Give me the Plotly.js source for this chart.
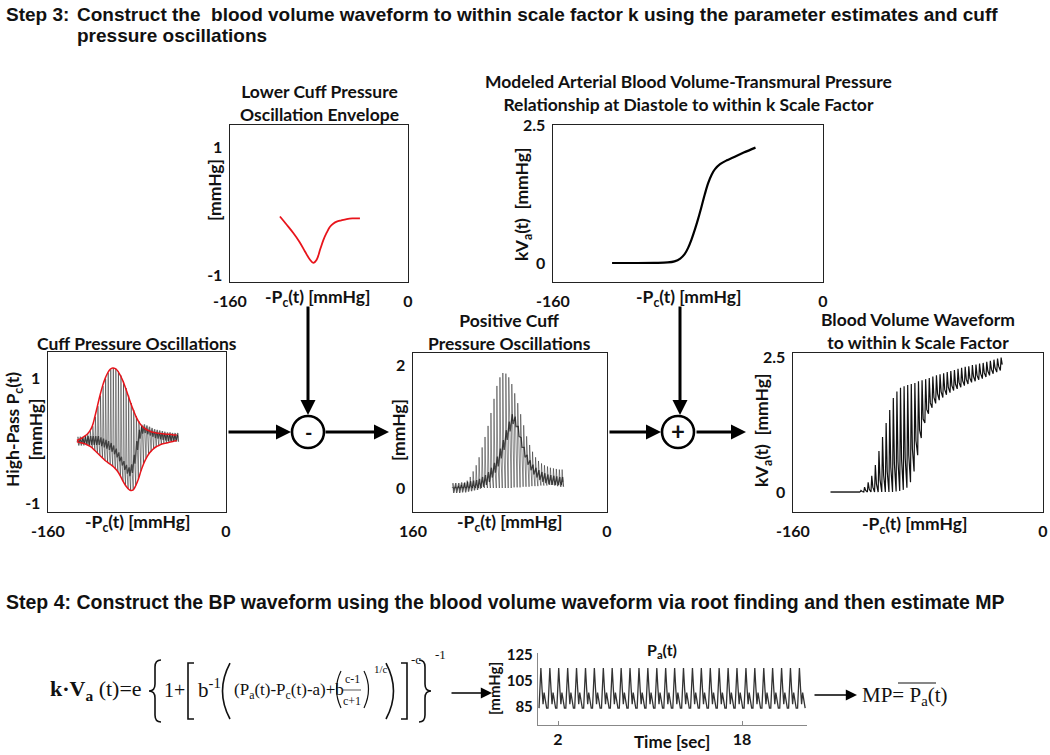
<!DOCTYPE html>
<html><head><meta charset="utf-8">
<script src="https://cdn.plot.ly/plotly-3.0.1.min.js"></script>
<style>html,body{margin:0;padding:0;background:#fff}#chart{width:1050px;height:755px}</style>
</head><body><div id="chart"></div>
<script>
// ---------------- DATA ----------------
// Lower cuff pressure oscillation envelope
const envX = [-115.1,-109,-103.1,-97.5,-92.6,-88.1,-85.1,-82.1,-79,-76.1,-73,-70.1,-67,-64.1,-60,-55.1,-50,-43.2];
const envY = [-0.08,-0.21,-0.34,-0.48,-0.63,-0.76,-0.81,-0.76,-0.6,-0.45,-0.33,-0.24,-0.19,-0.16,-0.14,-0.12,-0.11,-0.11];

// Modeled arterial blood volume - transmural pressure relationship
const modelX = [-125,-110,-100,-92,-88,-84.6,-82,-80,-78,-76,-74,-72,-70,-68,-66,-64,-61,-57,-53.3,-47,-40];
const modelY = [0,0,0.003,0.01,0.03,0.08,0.16,0.27,0.42,0.6,0.8,1.02,1.25,1.45,1.6,1.7,1.79,1.86,1.91,2.0,2.09];

// Cuff pressure oscillations (per beat)
const cuffBeatX = [-134.0,-131.7,-129.4,-127.1,-124.8,-122.5,-120.2,-117.9,-115.6,-113.3,-111.0,-108.7,-106.4,-104.1,-101.8,-99.5,-97.2,-94.9,-92.6,-90.3,-88.0,-85.7,-83.4,-81.1,-78.8,-76.5,-74.2,-71.9,-69.6,-67.3,-65.0,-62.7,-60.4,-58.1,-55.8,-53.5,-51.2,-48.9,-46.6,-44.3];
const cuffUpper = [0.00,0.02,0.04,0.07,0.10,0.15,0.23,0.38,0.55,0.72,0.87,0.99,1.08,1.14,1.16,1.15,1.11,1.04,0.95,0.84,0.72,0.60,0.49,0.39,0.31,0.25,0.21,0.18,0.16,0.14,0.13,0.12,0.115,0.11,0.105,0.10,0.10,0.095,0.09,0.09];
const cuffLower = [-0.02,-0.03,-0.04,-0.05,-0.07,-0.09,-0.12,-0.16,-0.20,-0.24,-0.28,-0.32,-0.35,-0.38,-0.41,-0.45,-0.50,-0.57,-0.65,-0.72,-0.77,-0.80,-0.79,-0.72,-0.62,-0.49,-0.38,-0.29,-0.22,-0.17,-0.13,-0.10,-0.08,-0.06,-0.05,-0.04,-0.03,-0.02,-0.01,0.00];
const cuffDark  = [-0.01,-0.01,-0.01,0,0,0,0,0,0,-0.02,-0.04,-0.06,-0.08,-0.11,-0.15,-0.2,-0.26,-0.33,-0.4,-0.46,-0.5,-0.45,-0.3,-0.08,0.1,0.18,0.19,0.17,0.15,0.13,0.11,0.1,0.09,0.08,0.07,0.06,0.06,0.05,0.05,0.05];

// Positive cuff pressure oscillations (per beat)
const posBeatX = [-128.0,-125.6,-123.1,-120.7,-118.2,-115.8,-113.3,-110.9,-108.4,-106.0,-103.5,-101.1,-98.6,-96.2,-93.7,-91.3,-88.8,-86.4,-83.9,-81.5,-79.0,-76.6,-74.1,-71.7,-69.2,-66.8,-64.3,-61.9,-59.4,-57.0,-54.5,-52.1,-49.6,-47.2,-44.7,-42.3,-39.8,-37.5];
const posUpper = [0.01,0.02,0.03,0.05,0.08,0.12,0.18,0.27,0.37,0.50,0.66,0.83,1.01,1.22,1.45,1.66,1.80,1.87,1.86,1.80,1.69,1.54,1.38,1.20,1.02,0.84,0.70,0.59,0.50,0.44,0.40,0.37,0.35,0.33,0.32,0.31,0.30,0.30];
const posLower = [0,0,0,0,0,0,0,0,0,0,0,0,0,0,0,0,0,0,0,0,0,0.01,0.01,0.01,0.02,0.02,0.02,0.03,0.03,0.03,0.04,0.04,0.04,0.05,0.05,0.05,0.05,0.05];
const posDark  = [0,0,0,0.01,0.01,0.02,0.03,0.04,0.05,0.07,0.1,0.13,0.18,0.25,0.33,0.43,0.56,0.7,0.86,1.0,1.12,1.08,0.92,0.74,0.58,0.46,0.37,0.3,0.25,0.21,0.18,0.16,0.14,0.13,0.12,0.11,0.1,0.1];

// Blood volume waveform (per beat)
const bvFlatX = [-136,-117];
const bvFlatY = [0,0];
const bvBeatX = [-117.0,-114.7,-112.4,-110.1,-107.8,-105.5,-103.2,-100.9,-98.6,-96.3,-94.0,-91.7,-89.4,-87.1,-84.8,-82.5,-80.2,-77.9,-75.6,-73.3,-71.0,-68.7,-66.4,-64.1,-61.8,-59.5,-57.2,-54.9,-52.6,-50.3,-48.0,-45.7,-43.4,-41.1,-38.8,-36.5,-34.2,-31.9,-29.6,-27.3];
const bvUpper = [0.03,0.09,0.18,0.3,0.5,0.76,1.02,1.28,1.52,1.74,1.86,1.93,1.96,1.98,2.0,2.02,2.05,2.07,2.09,2.11,2.14,2.16,2.18,2.2,2.22,2.24,2.26,2.28,2.3,2.32,2.33,2.35,2.36,2.38,2.39,2.41,2.43,2.45,2.47,2.49];
const bvLower = [0,0,0,0,0,0,0,0,0,0,0.01,0.02,0.04,0.08,0.18,0.38,0.68,1.0,1.28,1.45,1.56,1.64,1.7,1.75,1.8,1.84,1.88,1.91,1.94,1.97,2.0,2.03,2.05,2.08,2.1,2.13,2.16,2.19,2.22,2.25];
const bvDark  = [0.01,0.03,0.05,0.09,0.15,0.23,0.31,0.38,0.46,0.52,0.56,0.6,0.63,0.68,0.8,0.95,1.15,1.35,1.53,1.65,1.75,1.82,1.86,1.9,1.94,1.97,2.0,2.03,2.06,2.09,2.11,2.14,2.16,2.19,2.21,2.24,2.27,2.3,2.33,2.36];

// Arterial pressure Pa(t): one beat's shape and the beat onset times
const paBeatT = [0, 0.08, 0.16, 0.26, 0.35, 0.44, 0.54, 0.66];
const paBeatP = [84, 99, 115, 99, 87, 96, 89, 84];
const paOnsets = [0.35,1.13,1.90,2.68,3.45,4.23,5.00,5.78,6.55,7.33,8.10,8.88,9.65,10.43,11.20,11.98,12.75,13.53,14.30,15.08,15.85,16.63,17.40,18.18,18.95,19.73,20.50,21.28,22.05,22.83];

// Tick labels
const pcTickVals = [-160, 0];
const pcTickText = ['-160', '0'];
const posTickText = ['160', '0'];
const oscTickVals = [-1, 1];
const oscTickText = ['-1', '1'];
const paYTicks = [85, 105, 125];
const paXTicks = [2, 18];

// ---------------- LAYOUT HELPERS ----------------
const W = 1050, H = 755;
const PX = x => x / W, PY = y => 1 - y / H;
const SANS = 'Lato, "Open Sans", sans-serif';
const SERIF = '"Liberation Serif", "DejaVu Serif", serif';
const ARIAL = '"Liberation Sans", Arial, sans-serif';
const FS = 17.5;

function zig(xs, lo, hi, mid) {
  const X = [], Y = [];
  for (let i = 0; i < xs.length; i++) {
    X.push(xs[i], xs[i] + 0.5, xs[i] + 1.2);
    Y.push(lo[i], hi[i], mid[i]);
  }
  return {X, Y};
}
function band(xs, mid, d) {
  const X = [], Y = [];
  for (let i = 0; i < xs.length; i++) {
    X.push(xs[i] + 0.9, xs[i] + 1.6);
    Y.push(mid[i] + d, mid[i] - d);
  }
  return {X, Y};
}

const traces = [];
traces.push({x: envX, y: envY, xaxis: 'x', yaxis: 'y', mode: 'lines', line: {color: '#e8141b', width: 1.8, shape: 'spline'}, hoverinfo: 'skip'});
traces.push({x: modelX, y: modelY, xaxis: 'x2', yaxis: 'y2', mode: 'lines', line: {color: '#000', width: 2.2, shape: 'spline'}, hoverinfo: 'skip'});
let z = zig(cuffBeatX, cuffLower, cuffUpper, cuffDark);
traces.push({x: z.X, y: z.Y, xaxis: 'x3', yaxis: 'y3', mode: 'lines', line: {color: 'rgba(0,0,0,0.55)', width: 0.8}, hoverinfo: 'skip'});
let b = band(cuffBeatX, cuffDark, 0.07);
traces.push({x: b.X, y: b.Y, xaxis: 'x3', yaxis: 'y3', mode: 'lines', line: {color: 'rgba(0,0,0,0.6)', width: 1.3}, hoverinfo: 'skip'});
traces.push({x: cuffBeatX, y: cuffUpper, xaxis: 'x3', yaxis: 'y3', mode: 'lines', line: {color: '#e8141b', width: 1.5, shape: 'spline'}, hoverinfo: 'skip'});
traces.push({x: cuffBeatX, y: cuffLower, xaxis: 'x3', yaxis: 'y3', mode: 'lines', line: {color: '#e8141b', width: 1.5, shape: 'spline'}, hoverinfo: 'skip'});
z = zig(posBeatX, posLower, posUpper, posDark);
traces.push({x: z.X, y: z.Y, xaxis: 'x4', yaxis: 'y4', mode: 'lines', line: {color: 'rgba(0,0,0,0.55)', width: 0.8}, hoverinfo: 'skip'});
b = band(posBeatX, posDark, 0.08);
traces.push({x: b.X, y: b.Y, xaxis: 'x4', yaxis: 'y4', mode: 'lines', line: {color: 'rgba(0,0,0,0.65)', width: 1.3}, hoverinfo: 'skip'});
traces.push({x: bvFlatX, y: bvFlatY, xaxis: 'x5', yaxis: 'y5', mode: 'lines', line: {color: '#111', width: 1.4}, hoverinfo: 'skip'});
z = zig(bvBeatX, bvLower, bvUpper, bvDark);
traces.push({x: z.X, y: z.Y, xaxis: 'x5', yaxis: 'y5', mode: 'lines', line: {color: '#111', width: 1.2}, hoverinfo: 'skip'});
const paT = [], paP = [];
paOnsets.forEach(t0 => paBeatT.forEach((dt, k) => { paT.push(t0 + dt); paP.push(paBeatP[k]); }));
traces.push({x: paT, y: paP, xaxis: 'x6', yaxis: 'y6', mode: 'lines', line: {color: '#333', width: 1.3}, hoverinfo: 'skip'});

const tickfont = {family: SANS, size: 16, color: '#111', weight: 'bold'};
function xax(x0, x1, anchor, tt) {
  return {domain: [PX(x0), PX(x1)], range: [-160, 0], anchor, showline: true, mirror: true, linecolor: '#222', linewidth: 1.4,
    ticks: '', tickvals: pcTickVals, ticktext: tt || pcTickText, tickfont, ticklabelstandoff: 4, showgrid: false, zeroline: false, fixedrange: true};
}
function yax(y0, y1, range, tv, tt, anchor) {
  return {domain: [PY(y1), PY(y0)], range, anchor, showline: true, mirror: true, linecolor: '#222', linewidth: 1.4,
    ticks: '', tickvals: tv, ticktext: tt, tickfont, ticklabelstandoff: 3, showgrid: false, zeroline: false, fixedrange: true};
}

const ann = [];
function txt(x, y, text, size, o) {
  o = o || {};
  ann.push({x: PX(x), y: PY(y), xref: 'paper', yref: 'paper', text, showarrow: false,
    xanchor: o.xa || 'center', yanchor: o.ya || 'middle', textangle: o.rot || 0,
    font: {family: o.fam || SANS, size, color: '#111', weight: o.w || 'bold'}});
}
function arrow(x1, y1, x2, y2, w, s) {
  ann.push({x: PX(x2), y: PY(y2), xref: 'paper', yref: 'paper', ax: x1 - x2, ay: y1 - y2, text: '', showarrow: true,
    arrowhead: 2, arrowsize: s || 1, arrowwidth: w, arrowcolor: '#000', standoff: 0, startstandoff: 0});
}

// Step headings
txt(4, 15, 'Step 3:', 19, {xa: 'left', fam: ARIAL});
txt(75, 15, 'Construct the \u00a0blood volume waveform to within scale factor k using the parameter estimates and cuff', 19, {xa: 'left', fam: ARIAL});
txt(75, 36, 'pressure oscillations', 19, {xa: 'left', fam: ARIAL});
txt(4, 602, 'Step 4: Construct the BP waveform using the blood volume waveform via root finding and then estimate MP', 19.5, {xa: 'left', fam: ARIAL});

// Panel titles
txt(319, 103, 'Lower Cuff Pressure<br>Oscillation Envelope', FS);
txt(688, 93, 'Modeled Arterial Blood Volume-Transmural Pressure<br>Relationship at Diastole to within k Scale Factor', FS);
txt(137, 343, 'Cuff Pressure Oscillations', FS);
txt(509, 332, 'Positive Cuff<br>Pressure Oscillations', FS);
txt(918, 331, 'Blood Volume Waveform<br>to within k Scale Factor', FS);

// Axis titles
const pcTitle = '-P<sub>c</sub>(t) [mmHg]';
txt(317, 298, pcTitle, FS);
txt(688, 298, pcTitle, FS);
txt(137, 523, pcTitle, FS);
txt(509, 523, pcTitle, FS);
txt(914, 525, pcTitle, FS);
txt(215, 190, '[mmHg]', FS, {rot: -90});
txt(523, 204, 'kV<sub>a</sub>(t) \u00a0[mmHg]', FS, {rot: -90});
txt(24, 430, 'High-Pass P<sub>c</sub>(t)<br>[mmHg]', FS, {rot: -90});
txt(398, 430, '[mmHg]', FS, {rot: -90});
txt(763, 430, 'kV<sub>a</sub>(t) \u00a0[mmHg]', FS, {rot: -90});
txt(494, 689, '[mmHg]', 15, {rot: -90});
txt(662, 650, 'P<sub>a</sub>(t)', 16);
txt(672, 741, 'Time [sec]', 17);

// Operators
txt(308, 432, '-', 20);
txt(678, 431, '+', 24);

// Arrows in the diagram
arrow(308, 305, 308, 415, 3);
arrow(227, 432, 291, 432, 3);
arrow(324, 432, 389, 432, 3);
arrow(680, 305, 680, 415, 3);
arrow(608, 432, 661, 432, 3);
arrow(695, 432, 746, 432, 3);
arrow(450, 693, 492, 693, 1.6, 1.4);
arrow(813, 695, 857, 695, 1.6, 1.4);

// Equation
txt(48, 690, '<b>k·V<sub>a</sub></b> (t)=e', 22, {xa: 'left', fam: SERIF, w: 'normal'});
txt(162, 690, '1+', 20, {xa: 'left', fam: SERIF, w: 'normal'});
txt(196, 688, 'b<sup>-1</sup>', 21, {xa: 'left', fam: SERIF, w: 'normal'});
txt(232, 691, '(P<sub>a</sub>(t)-P<sub>c</sub>(t)-a)+b', 17, {xa: 'left', fam: SERIF, w: 'normal'});
txt(352, 679, 'c-1', 12, {fam: SERIF, w: 'normal'});
txt(352, 701, 'c+1', 12, {fam: SERIF, w: 'normal'});
txt(372, 669, '1/c', 11, {xa: 'left', fam: SERIF, w: 'normal'});
txt(409, 659, '-c', 13, {xa: 'left', fam: SERIF, w: 'normal'});
txt(433, 654, '-1', 13, {xa: 'left', fam: SERIF, w: 'normal'});
txt(860, 696, 'MP= P<sub>a</sub>(t)', 21, {xa: 'left', fam: SERIF, w: 'normal'});

// path helper: pixel coordinates -> paper coordinates
function conv(s) {
  const t = s.trim().split(/\s+/); let out = [], nums = [];
  const flush = () => { for (let i = 0; i < nums.length; i += 2) out.push(PX(nums[i]).toFixed(5) + ',' + PY(nums[i + 1]).toFixed(5)); nums = []; };
  t.forEach(k => { if (/^[A-Za-z]$/.test(k)) { flush(); out.push(k); } else nums.push(parseFloat(k)); });
  flush(); return out.join(' ');
}
const shapes = [];
function pathShape(s, w) { shapes.push({type: 'path', xref: 'paper', yref: 'paper', path: conv(s), line: {color: '#111', width: w || 1.6}}); }
function circ(cx, cy, r) { shapes.push({type: 'circle', xref: 'paper', yref: 'paper', x0: PX(cx - r), x1: PX(cx + r), y0: PY(cy + r), y1: PY(cy - r), line: {color: '#000', width: 2.6}}); }
circ(308, 432, 16);
circ(678, 432, 16);
pathShape('M 161 660 Q 155 660 155 667 L 155 684 Q 155 691 149 691 Q 155 691 155 698 L 155 715 Q 155 722 161 722', 1.6);
pathShape('M 419 660 Q 425 660 425 667 L 425 684 Q 425 691 431 691 Q 425 691 425 698 L 425 715 Q 425 722 419 722', 1.6);
pathShape('M 194 663 L 188 663 L 188 719 L 194 719', 1.6);
pathShape('M 401 663 L 407 663 L 407 719 L 401 719', 1.6);
pathShape('M 230 663 Q 215 691 230 719', 1.6);
pathShape('M 386 663 Q 401 691 386 719', 1.6);
pathShape('M 341 671 Q 332 689 341 708', 1.2);
pathShape('M 364 671 Q 373 689 364 708', 1.2);
pathShape('M 343 690 L 361 690', 0.7);
pathShape('M 898 683 L 936 683', 1.2);

const layout = {
  width: W, height: H, margin: {l: 0, r: 0, t: 0, b: 0}, paper_bgcolor: '#fff', plot_bgcolor: '#fff', showlegend: false,
  xaxis: xax(230, 408, 'y'), yaxis: yax(125, 282, [-1.11, 1.36], oscTickVals, oscTickText, 'x'),
  xaxis2: xax(553, 823, 'y2'), yaxis2: yax(125, 282, [-0.344, 2.5], [0, 2.5], ['0', '2.5'], 'x2'),
  xaxis3: xax(48, 226, 'y3'), yaxis3: yax(352, 512, [-1.144, 1.416], oscTickVals, oscTickText, 'x3'),
  xaxis4: xax(413, 607, 'y4', posTickText), yaxis4: yax(353, 512, [-0.39, 2.195], [0, 2], ['0', '2'], 'x4'),
  xaxis5: xax(793, 1043, 'y5'), yaxis5: yax(353, 512, [-0.37, 2.574], [0, 2.5], ['0', '2.5'], 'x5'),
  xaxis6: {domain: [PX(538), PX(807)], range: [0.26, 23.65], anchor: 'y6', showline: true, mirror: false, linecolor: '#888', linewidth: 1.2,
    ticks: 'inside', ticklen: 4, tickcolor: '#888', tickvals: paXTicks, tickfont, showgrid: false, zeroline: false, fixedrange: true},
  yaxis6: {domain: [PY(725), PY(653)], range: [71, 126.5], anchor: 'x6', showline: true, mirror: false, linecolor: '#888', linewidth: 1.2,
    ticks: '', tickvals: paYTicks, tickfont: {family: SANS, size: 15, color: '#111', weight: 'bold'}, ticklabelstandoff: 1, showgrid: false, zeroline: false, fixedrange: true},
  annotations: ann, shapes
};
Plotly.newPlot('chart', traces, layout, {staticPlot: true, displayModeBar: false});
</script></body></html>
